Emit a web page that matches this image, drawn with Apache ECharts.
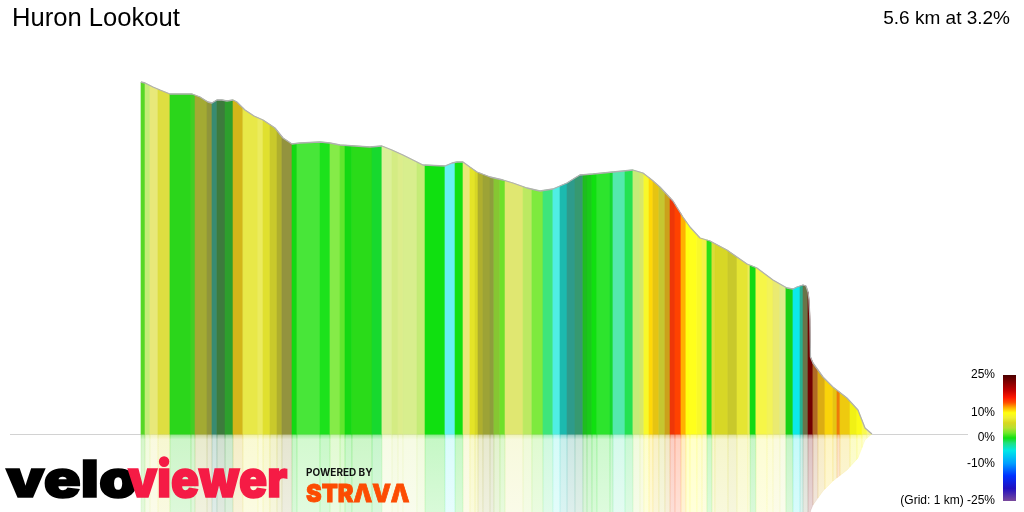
<!DOCTYPE html>
<html><head><meta charset="utf-8">
<script src="https://cdn.jsdelivr.net/npm/echarts@6/dist/echarts.min.js"></script>
<style>html,body{margin:0;padding:0;background:#fff}#c{width:1024px;height:512px}</style>
</head><body><div id="c"></div>
<script>
// ---------- data ----------
const titleText = 'Huron Lookout';
const summaryText = '5.6 km at 3.2%';
const totalDistance = 5600; // m
// outline of the profile: distance (m) and height above base
const profileDist = [0,31,92,146,222,391,452,513,544,582,621,659,705,735,797,866,935,1027,1088,1157,1218,1371,1448,1525,1754,1846,1923,2007,2084,2160,2329,2383,2421,2467,2520,2574,2674,2773,2850,2957,3057,3156,3264,3325,3363,3463,3769,3846,3915,3976,4076,4152,4206,4283,4359,4489,4643,4719,4842,4949,4995,5026,5072,5095,5110,5118,5125,5129,5148,5225,5301,5409,5493,5523,5547,5600];
const profileElev = [352,351,347,344,340,340,337,332,331,334,334,333,334,332,324,318,314,306,296,290,291,292,291,289,287,288,284,279,274,269,268,271,272,272,267,262,257,254,251,246,243,245,251,256,259,260,264,261,254,247,233,217,207,196,193,184,170,166,154,146,145,147,149,148,142,134,114,77,71,57,47,36,24,14,6,0];
// coloured strips: start distance (m), gradient (%), lighting (-1 dark .. +1 pale)
const stripStart = [0,31,69,130,222,383,414,506,544,582,644,705,781,896,935,988,1042,1080,1157,1195,1371,1448,1525,1563,1616,1770,1846,1923,1969,2007,2114,2176,2329,2406,2467,2520,2559,2582,2620,2674,2704,2750,2789,2927,2995,3080,3156,3210,3264,3325,3386,3417,3455,3493,3593,3616,3708,3769,3823,3853,3892,3922,3968,4014,4053,4091,4137,4175,4206,4259,4298,4336,4374,4397,4497,4566,4650,4666,4711,4796,4842,4895,4941,4995,5049,5072,5110,5148,5186,5240,5301,5332,5355,5432,5485,5524,5562];
const stripGrade = [1.5,3.5,6,6,0.5,1,5.5,5.5,-3,0,0,11,7,7,6.5,6.5,6,7,0,0.5,0,2,1.5,0,0.5,-0.5,4,4,4.5,4,3.5,0,-5,0,6,7,6.5,6,5.5,4.5,3,2,5.5,3.5,2,-1.5,-4.5,-4.5,-4,-2.5,0,0,0,0,-0.5,-2.5,-1,3.5,5,9,11,11,7,11.5,15,14.5,12,10,10,9,8,0.5,6,6.5,6.5,7,7,0,8.5,8,6.5,4.5,0,-5,-3.5,4,23,13,11.5,11,11,13,11,10,9.5,9,8];
const stripLight = [-0.1,0.35,0.4,0.15,-0.08,-0.15,-0.35,-0.5,-0.6,-0.7,-0.45,-0.25,0.15,0.25,0.05,-0.15,-0.3,-0.55,-0.05,0.15,0.05,0.15,0.05,-0.05,-0.05,-0.05,0.5,0.4,0.45,0.45,0.35,0,0.4,0,0.4,0,-0.05,-0.3,-0.4,-0.45,-0.2,-0.05,0.35,0.25,0.1,0.15,0.3,-0.3,-0.5,-0.5,-0.25,-0.15,0,0.12,-0.05,0.25,0.05,0.35,0.3,0.05,0,-0.15,-0.2,-0.3,-0.1,0,0,0,0.05,0.05,0.1,-0.02,0.1,-0.05,-0.15,0.05,0.25,-0.05,0.15,0.2,0.35,0.45,-0.1,0.05,-0.35,-0.75,0,-0.45,-0.2,-0.03,-0.15,-0.1,-0.1,-0.08,0,0.2,0.4];
// legend
const legendTicks = [25, 10, 0, -10, -25];
const legendTickLabels = ['25%', '10%', '0%', '-10%', '(Grid: 1 km) -25%'];

// ---------- colour scale (palette) ----------
const gradeStops  = [-25,-20,-15,-10,-5,-2,0,2,4,6,8,10,12,14,16,19,25];
const gradeColors = ['#7a4a9c','#2010c0','#0030ff','#00a0ff','#00e8e8','#20e080','#10e010','#70e828','#b8e030','#d8d820','#f0f030','#ffff10','#ffb000','#ff5000','#ff1800','#c00000','#4a0000'];
function gradeColor(g) {
  if (g <= gradeStops[0]) return gradeColors[0];
  for (let k = 1; k < gradeStops.length; k++) {
    if (g <= gradeStops[k]) {
      const t = (g - gradeStops[k-1]) / (gradeStops[k] - gradeStops[k-1]);
      return echarts.color.lerp(t, [gradeColors[k-1], gradeColors[k]]);
    }
  }
  return gradeColors[gradeColors.length-1];
}
function stripColor(i) {
  const c = gradeColor(stripGrade[i]);
  const s = stripLight[i];
  if (s > 0) return echarts.color.lerp(s, [c, '#ffffff']);
  if (s < 0) return echarts.color.lerp(-s, [c, '#505050']);
  return c;
}
function elevAt(d) {
  for (let k = 1; k < profileDist.length; k++) {
    if (d <= profileDist[k]) {
      const t = (d - profileDist[k-1]) / (profileDist[k] - profileDist[k-1]);
      return profileElev[k-1] + t * (profileElev[k] - profileElev[k-1]);
    }
  }
  return 0;
}

// legend bar geometry (linear scale from 25% at top to -25% at bottom)
const barX = 1003, barY = 375, barW = 13, barH = 126;
function legendOffset(g) { return (25 - g) / 50; }
const barStops = [];
for (let k = gradeStops.length - 1; k >= 0; k--) {
  barStops.push({ offset: legendOffset(gradeStops[k]), color: gradeColors[k] });
}

const chart = echarts.init(document.getElementById('c'), null, { renderer: 'canvas' });
const stripItems = stripStart.map((d, i) => [d, i]);

function renderStrip(params, api) {
  const i = params.dataIndex;
  const d0 = stripStart[i];
  const d1 = i + 1 < stripStart.length ? stripStart[i+1] : totalDistance;
  const pts = [[d0, elevAt(d0)]];
  for (let k = 0; k < profileDist.length; k++) {
    if (profileDist[k] > d0 && profileDist[k] < d1) pts.push([profileDist[k], profileElev[k]]);
  }
  pts.push([d1, elevAt(d1)]);
  const b0 = api.coord([d0, 0]), b1 = api.coord([d1, 0]);
  const top = pts.map(p => api.coord(p));
  const bot = pts.map(p => api.coord([p[0], -p[1]]));
  const col = stripColor(i);
  const yBase = b0[1];
  const reflFill = new echarts.graphic.LinearGradient(0, yBase, 0, yBase + 78, [
    { offset: 0, color: echarts.color.modifyAlpha(col, 0.55) },
    { offset: 0.07, color: echarts.color.modifyAlpha(col, 0.24) },
    { offset: 1, color: echarts.color.modifyAlpha(col, 0.16) }
  ], true);
  return {
    type: 'group',
    children: [
      { type: 'polygon', shape: { points: [b0].concat(top, [b1]) },
        style: { fill: col, stroke: col, lineWidth: 0.6 } },
      { type: 'polygon', shape: { points: [b0].concat(bot, [b1]) },
        style: { fill: reflFill, stroke: reflFill, lineWidth: 0.6 } }
    ]
  };
}

const logoFont = 'Inter, "DejaVu Sans", sans-serif';
const graphics = [
  { type: 'line', z: 1, shape: { x1: 10, y1: 434.5, x2: 968, y2: 434.5 }, style: { stroke: '#d2d2d2', lineWidth: 1 } },
  { type: 'text', z: 10, x: 12, y: 19, style: { text: titleText, fill: '#000', font: '25.6px "Liberation Sans", Arial, sans-serif', verticalAlign: 'middle', align: 'left' } },
  { type: 'text', z: 10, x: 1010, y: 19, style: { text: summaryText, fill: '#000', font: '19px "Liberation Sans", Arial, sans-serif', verticalAlign: 'middle', align: 'right' } },
  { type: 'rect', z: 10, shape: { x: barX, y: barY, width: barW, height: barH },
    style: { fill: new echarts.graphic.LinearGradient(0, 0, 0, 1, barStops) } },
  { type: 'text', z: 10, x: 6, y: 482, scaleX: 1.2,
    style: { text: 'velo', fill: '#000', stroke: '#000', lineWidth: 1.6, fontSize: 51, fontWeight: 900, fontFamily: logoFont, verticalAlign: 'middle', align: 'left' } },
  { type: 'text', z: 11, x: 128, y: 482, scaleX: 0.91,
    style: { text: 'viewer', fill: '#f51b45', stroke: '#f51b45', lineWidth: 1.6, fontSize: 51, fontWeight: 900, fontFamily: logoFont, verticalAlign: 'middle', align: 'left' } },
  { type: 'text', z: 10, x: 306, y: 473, style: { text: 'POWERED BY', fill: '#111', font: 'bold 10px Inter, "DejaVu Sans", sans-serif', verticalAlign: 'middle', align: 'left' } },
  { type: 'text', z: 10, x: 306, y: 494, scaleX: 0.94, style: { text: 'STRΛVΛ', fill: '#fc4c02', stroke: '#fc4c02', lineWidth: 0.8, font: '900 25px Inter, "DejaVu Sans", sans-serif', verticalAlign: 'middle', align: 'left' } }
];
legendTicks.forEach((g, k) => {
  graphics.push({ type: 'text', z: 10, x: 995, y: barY + legendOffset(g) * barH,
    style: { text: legendTickLabels[k], fill: '#000', font: '12px "Liberation Sans", Arial, sans-serif', align: 'right', verticalAlign: 'middle' } });
});

chart.setOption({
  animation: false,
  backgroundColor: '#ffffff',
  grid: { left: 0, right: 0, top: 40, bottom: 0 },
  xAxis: { type: 'value', min: -1080, max: 6765, show: false },
  yAxis: { type: 'value', min: -78, max: 394, show: false },
  series: [
    { type: 'custom', z: 2, data: stripItems, renderItem: renderStrip, silent: true, clip: true },
    { type: 'line', z: 3, data: profileDist.map((d, i) => [d, profileElev[i]]), symbol: 'none', silent: true,
      lineStyle: { color: '#b0b0b0', width: 1.3 } }
  ],
  graphic: graphics
});
</script>
</body></html>
